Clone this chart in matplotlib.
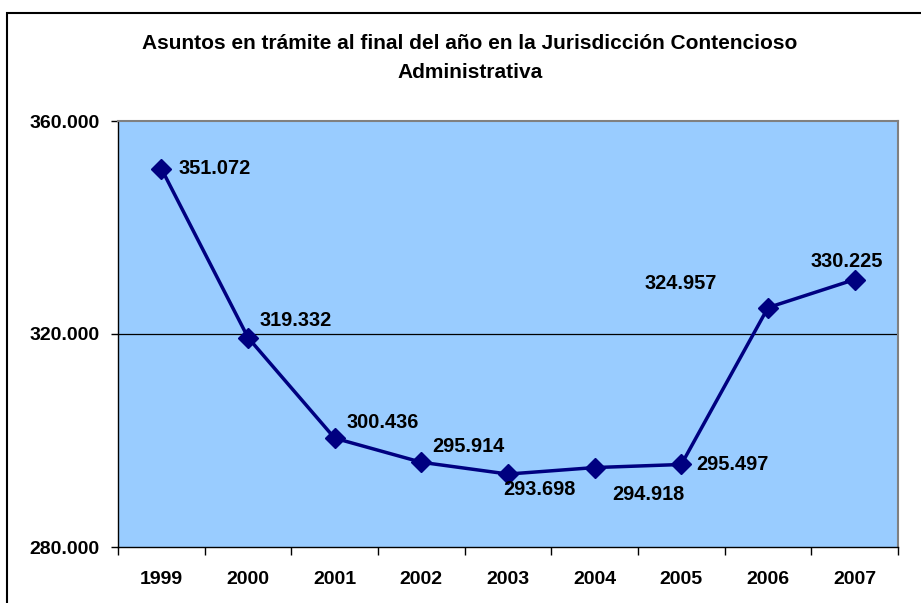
import matplotlib
matplotlib.use("Agg")
import matplotlib.pyplot as plt
from matplotlib.patches import Rectangle

years = ["1999", "2000", "2001", "2002", "2003", "2004", "2005", "2006", "2007"]
values = [351072, 319332, 300436, 295914, 293698, 294918, 295497, 324957, 330225]
labels = ["351.072", "319.332", "300.436", "295.914", "293.698", "294.918", "295.497", "324.957", "330.225"]
y_ticks = [280000, 320000, 360000]
y_tick_labels = ["280.000", "320.000", "360.000"]
title = "Asuntos en trámite al final del año en la Jurisdicción Contencioso\nAdministrativa"

# label offsets in pixels (dx, dy) and alignment
label_pos = [
    (17, 0, "left", "center"),
    (12, 17, "left", "center"),
    (12, 16, "left", "center"),
    (11, 16, "left", "center"),
    (-5, -15, "left", "center"),
    (18, -27, "left", "center"),
    (15, 0, "left", "center"),
    (-51, 24, "right", "center"),
    (-8, 18, "center", "center"),
]

plt.rcParams['font.family'] = ['Liberation Sans', 'DejaVu Sans']
fig = plt.figure(figsize=(9.21, 6.03), dpi=100)
W, H = 921, 603

fig.patches.append(Rectangle((7 / W, -0.05), 1.1, 1 - 13 / H + 0.05, transform=fig.transFigure,
                             fill=False, edgecolor="black", linewidth=1.5))

ax = fig.add_axes([118 / W, 56 / H, 780 / W, 426 / H])
ax.set_facecolor("#99CCFF")
x = list(range(len(years)))
ax.set_xlim(-0.5, len(years) - 0.5)
ax.set_ylim(280000, 360000)
ax.axhline(320000, color="black", linewidth=0.9, zorder=1)
ax.plot(x, values, color="#000080", linewidth=2.5, marker="D", markersize=10,
        markerfacecolor="#000080", markeredgecolor="#000080", zorder=3)

for xi, v, lab, (dx, dy, ha, va) in zip(x, values, labels, label_pos):
    ax.annotate(lab, (xi, v), xytext=(dx * 0.72, dy * 0.72), textcoords="offset points",
                ha=ha, va=va, fontsize=14.4, fontweight="bold", color="black", zorder=4)

ax.set_yticks(y_ticks)
ax.set_yticklabels(y_tick_labels, fontsize=14, fontweight="bold")
ax.tick_params(axis="y", length=5, width=1, pad=8, color="black")
ax.set_xticks(x)
ax.set_xticklabels(years, fontsize=14, fontweight="bold")
ax.set_xticks([i - 0.5 for i in range(len(years) + 1)], minor=True)
ax.tick_params(axis="x", which="major", length=0, pad=17)
ax.tick_params(axis="x", which="minor", length=6, width=1, color="black")

for s in ["left", "bottom"]:
    ax.spines[s].set_color("black")
    ax.spines[s].set_linewidth(1.0)
for s in ["top", "right"]:
    ax.spines[s].set_color("#808080")
    ax.spines[s].set_linewidth(1.5)

fig.text(470 / W, 1 - 58 / H, title, ha="center", va="center", fontsize=15,
         fontweight="bold", linespacing=1.65)

fig.savefig("out.png", dpi=100, facecolor="white")
